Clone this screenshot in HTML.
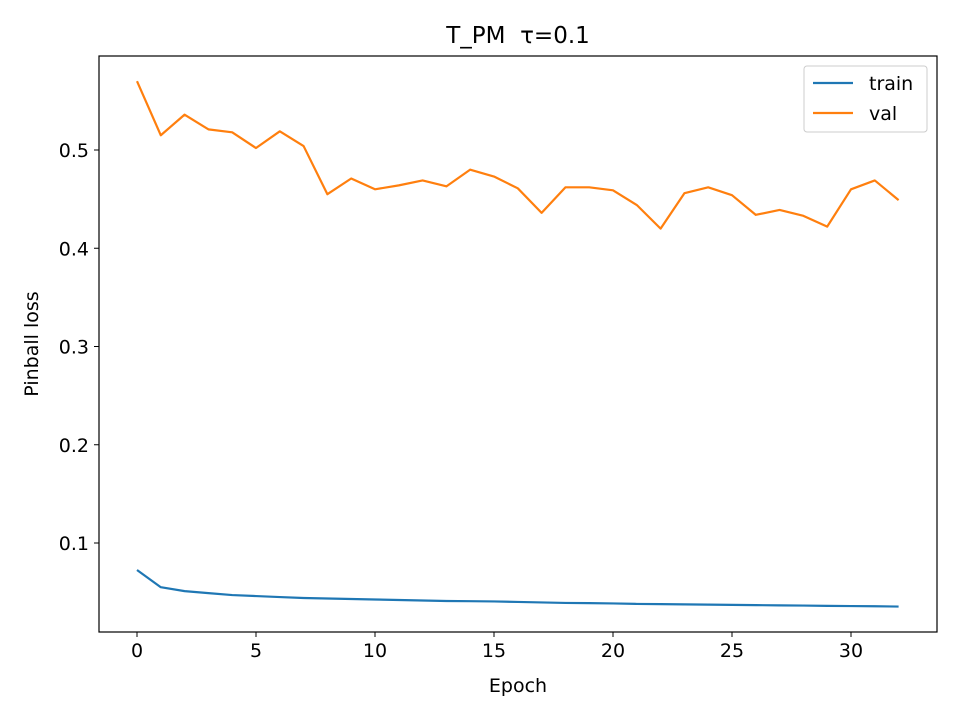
<!DOCTYPE html>
<html><head><meta charset="utf-8"><style>
body{margin:0;background:#fff;font-family:"DejaVu Sans",sans-serif}
text{white-space:pre}
</style></head><body>
<svg id="chart" width="960" height="720" xmlns="http://www.w3.org/2000/svg" font-family="DejaVu Sans, sans-serif"></svg>
<script>
const epochs=[0,1,2,3,4,5,6,7,8,9,10,11,12,13,14,15,16,17,18,19,20,21,22,23,24,25,26,27,28,29,30,31,32];
const trainLoss=[0.0725,0.055,0.051,0.049,0.047,0.046,0.045,0.044,0.0435,0.043,0.0425,0.042,0.0415,0.041,0.0408,0.0405,0.040,0.0395,0.039,0.0388,0.0385,0.038,0.0378,0.0375,0.0373,0.037,0.0368,0.0365,0.0363,0.036,0.0358,0.0356,0.0353];
const valLoss=[0.570,0.515,0.536,0.521,0.518,0.502,0.519,0.504,0.455,0.471,0.460,0.464,0.469,0.463,0.480,0.473,0.461,0.436,0.462,0.462,0.459,0.444,0.420,0.456,0.462,0.454,0.434,0.439,0.433,0.422,0.460,0.469,0.449];
const xTicks=[0,5,10,15,20,25,30];
const yTicks=[0.1,0.2,0.3,0.4,0.5];
const NS="http://www.w3.org/2000/svg";
const svg=document.getElementById('chart');
const L=99,R=937,T=56,B=632;
const xs=v=>137+v*(851-137)/30;
const ys=v=>543-(v-0.1)*(543-150)/0.4;
function mk(tag,attrs,parent){const e=document.createElementNS(NS,tag);for(const k in attrs)e.setAttribute(k,attrs[k]);(parent||svg).appendChild(e);return e;}
let t=mk('text',{x:518,y:43,'text-anchor':'middle','font-size':'23'});t.textContent='T_PM  τ=0.1';


xTicks.forEach(v=>{const g=mk('g',{});


mk('line',{x1:xs(v),x2:xs(v),y1:B,y2:B+5,stroke:'#000'},g);
const tx=mk('text',{x:xs(v),y:B+25,'text-anchor':'middle','font-size':'19'},g);tx.textContent=v;});
yTicks.forEach(v=>{const g=mk('g',{});


mk('line',{x1:L-5,x2:L,y1:ys(v),y2:ys(v),stroke:'#000'},g);
const tx=mk('text',{x:L-10,y:ys(v)+7,'text-anchor':'end','font-size':'19'},g);tx.textContent=v.toFixed(1);});
t=mk('text',{x:518,y:692,'text-anchor':'middle','font-size':'19'});t.textContent='Epoch';


t=mk('text',{x:38,y:344,'text-anchor':'middle','font-size':'19',transform:'rotate(-90 38 344)'});t.textContent='Pinball loss';


function line(data,color,name){const p=mk('polyline',{points:epochs.map((e,i)=>xs(e)+','+ys(data[i])).join(' '),fill:'none',stroke:color,'stroke-width':2.2,'stroke-linejoin':'round'});

}
line(trainLoss,'#1f77b4','train-line');
line(valLoss,'#ff7f0e','val-line');
const f=mk('rect',{x:L,y:T,width:R-L,height:B-T,fill:'none',stroke:'#000','stroke-width':1.2});


const lg=mk('g',{});


mk('rect',{x:804,y:66,width:123,height:66,rx:3,fill:'#fff',stroke:'#ccc'},lg);
[['train','#1f77b4',83],['val','#ff7f0e',113]].forEach(([n,c,y])=>{const g=mk('g',{},lg);


mk('line',{x1:813,x2:853,y1:y,y2:y,stroke:c,'stroke-width':2.2},g);
const tx=mk('text',{x:869,y:y+7,'font-size':'19'},g);tx.textContent=n;});
</script>
</body></html>
